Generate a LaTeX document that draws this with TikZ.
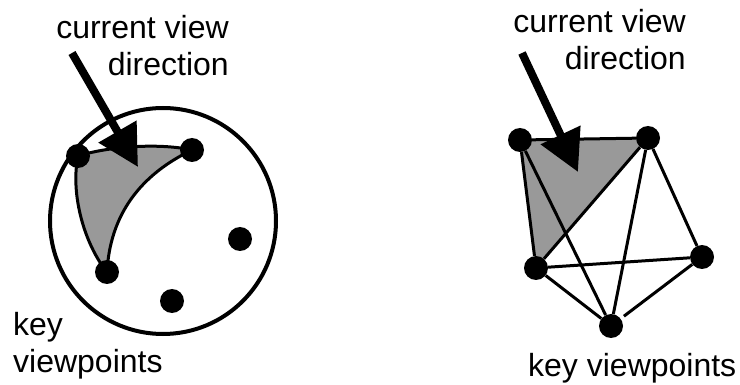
\documentclass[tikz,border=0pt]{standalone}
\usepackage{fontspec}
\setmainfont{Liberation Sans}
\usetikzlibrary{arrows.meta,backgrounds}

\tikzset{
  viewpt/.style={circle, fill=black, inner sep=0pt, minimum size=24pt},
  label/.style={inner sep=0pt, font=\fontsize{32}{37}\selectfont},
  viewarrow/.style={line width=8pt, -{Triangle[length=41pt,width=42pt]}},
  link/.style={line width=3pt},
  region/.style={fill=black!40, draw=black, line width=3pt, line join=round}
}

\begin{document}
\begin{tikzpicture}[x=1pt, y=-1pt]
  \useasboundingbox (0,0) rectangle (740,385);

  % Left: key viewpoints on a sphere
  \draw[line width=4pt] (163,221) circle (113);
  \node[viewpt] (la) at (78,156) {};
  \node[viewpt] (lb) at (192,150) {};
  \node[viewpt] (lc) at (240,239) {};
  \node[viewpt] (ld) at (107,272) {};
  \node[viewpt] (le) at (172,301) {};
  \begin{scope}[on background layer]
    \draw[region] (la.center) .. controls (110,146) and (160,143) .. (lb.center)
      .. controls (140,175) and (110,215) .. (ld.center)
      .. controls (85,245) and (70,195) .. (la.center);
  \end{scope}

  \coordinate (ltail) at (72,53);
  \coordinate (ltip) at (138,167);
  \draw[viewarrow] (ltail) -- (ltip);

  \node[label, align=right, anchor=base east] (lview) at (229,76) {current view\\direction};
  \node[label, align=left, anchor=base west] (lkey) at (13,372) {key\\viewpoints};

  % Right: key viewpoints joined as a graph
  \node[viewpt] (ra) at (520,140) {};
  \node[viewpt] (rb) at (648,138) {};
  \node[viewpt] (rc) at (536,268) {};
  \node[viewpt] (rd) at (702,257) {};
  \node[viewpt] (re) at (611,326) {};
  \begin{scope}[on background layer]
    \fill[black!40] (ra.center) -- (rb.center) -- (rc.center) -- cycle;
  \end{scope}
  \draw[link] (ra) -- (rb);
  \draw[link] (ra) -- (rc);
  \draw[link] (ra) -- (re);
  \draw[link] (rb) -- (rc);
  \draw[link] (rb) -- (re);
  \draw[link] (rb) -- (rd);
  \draw[link] (rc) -- (rd);
  \draw[link] (rc) -- (re);
  \draw[link, shorten >=4pt] (rd) -- (re);

  \coordinate (rtail) at (522,53);
  \coordinate (rtip) at (578,172);
  \draw[viewarrow] (rtail) -- (rtip);

  \node[label, align=right, anchor=base east] (rview) at (686,70) {current view\\direction};
  \node[label, anchor=base west] (rkey) at (528,376) {key viewpoints};
\end{tikzpicture}
\end{document}
